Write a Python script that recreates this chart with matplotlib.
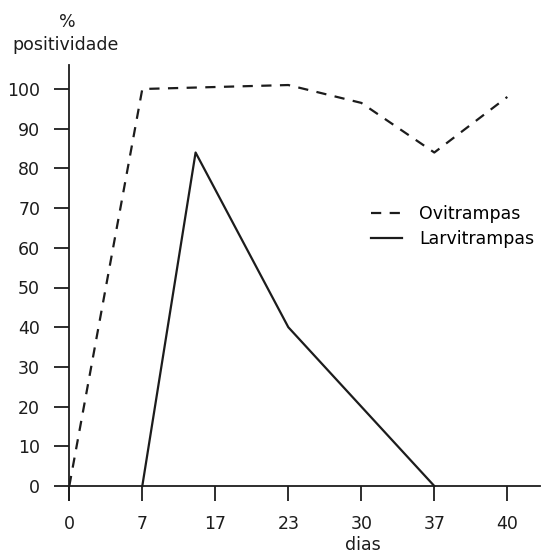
import matplotlib
matplotlib.use("Agg")
import matplotlib.pyplot as plt

# Tick labels (evenly spaced categories)
day_labels = ["0", "7", "17", "23", "30", "37", "40"]
# x positions in category-index units
ovi_x = [0, 1, 3, 4, 5, 6]
ovi_y = [0, 100, 101, 96.5, 84, 98]
larvi_x = [1, 1.73, 3, 5]
larvi_y = [0, 84, 40, 0]
y_ticks = [0, 10, 20, 30, 40, 50, 60, 70, 80, 90, 100]

plt.rcParams['font.family'] = ['DejaVu Sans']
fig = plt.figure(figsize=(5.42, 5.6), dpi=100)
ax = fig.add_axes([69.3/542, 60/560, (540-69.3)/542, (500-65)/560])
ink = '#1c1c1c'
l1, = ax.plot(ovi_x, ovi_y, color=ink, lw=1.6, dashes=(4.6, 3.8), label='Ovitrampas')
l2, = ax.plot(larvi_x, larvi_y, color=ink, lw=1.6, label='Larvitrampas')

ax.set_xlim(0, (540-69.3)/73)
ax.set_ylim(-(14/3.97), (486-65)/3.97)
ax.spines['top'].set_visible(False)
ax.spines['right'].set_visible(False)
ax.spines['bottom'].set_position(('data', 0))
for s in ('left', 'bottom'):
    ax.spines[s].set_color(ink)
    ax.spines[s].set_linewidth(1.3)
ax.set_xticks(range(len(day_labels)))
ax.set_xticklabels(day_labels)
ax.set_yticks(y_ticks)
ax.tick_params(axis='both', direction='out', length=11, width=1.3, color=ink,
               labelsize=12.5, labelcolor=ink, pad=10)

fs = 12.5
fig.text(67/542, 1-22/560, '%', ha='center', va='center', fontsize=fs, color=ink)
fig.text(66/542, 1-45/560, 'positividade', ha='center', va='center', fontsize=fs, color=ink)
fig.text(363/542, 1-545/560, 'dias', ha='center', va='center', fontsize=fs, color=ink)

ax.legend(handles=[l1, l2], loc='upper left', bbox_to_anchor=(362/542, 1-196/560),
          bbox_transform=fig.transFigure, frameon=False, fontsize=fs,
          handlelength=1.8, handletextpad=1.0, labelspacing=0.45, borderpad=0)

fig.savefig('out.png', dpi=100)
